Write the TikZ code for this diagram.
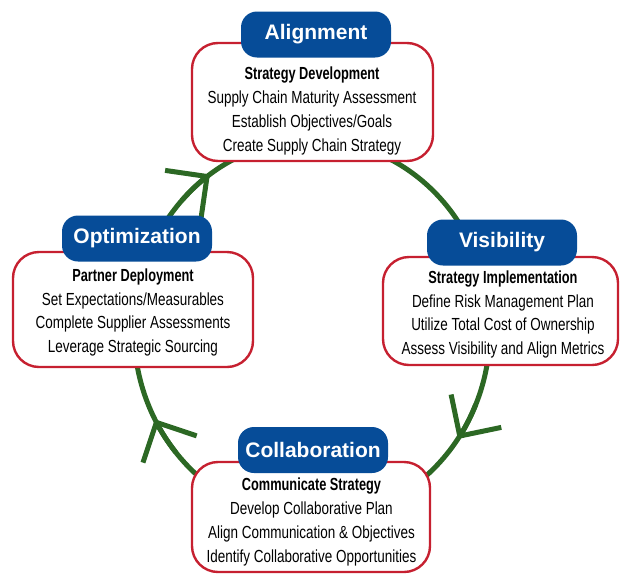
\documentclass[tikz,border=0pt]{standalone}
\usepackage{fontspec}
\setmainfont{Liberation Sans}
\newfontfamily\narrowfont{Liberation Sans}[FakeStretch=0.77]
\newfontfamily\narrowhead{Liberation Sans}[FakeStretch=0.73]
\usetikzlibrary{arrows.meta}
\definecolor{cycleblue}{RGB}{6,76,152}
\definecolor{boxred}{RGB}{198,32,48}
\definecolor{cyclegreen}{RGB}{44,104,36}
\newcommand{\phasehead}[1]{{\narrowhead\bfseries #1}}

\begin{document}
\begin{tikzpicture}[x=1pt,y=1pt,
  phasebox/.style={draw=boxred, line width=2.4pt, fill=white, rounded corners=26pt, inner sep=0pt},
  phasetitle/.style={fill=cycleblue, text=white, rounded corners=16pt, minimum width=150pt,
    minimum height=46pt, inner sep=0pt, font=\fontsize{21}{25}\selectfont\bfseries},
  phasetext/.style={align=center, font=\narrowfont\fontsize{17.5}{23.7}\selectfont, inner sep=0pt},
  loopline/.style={draw=cyclegreen, line width=5pt},
  flowtip/.style={loopline, -{Straight Barb[length=30pt,width=60pt]}}
]
\useasboundingbox (0,0) rectangle (620,-573);

% the improvement cycle, running clockwise
\coordinate (hub) at (312,-330);
\draw[loopline] (hub) ellipse [x radius=178, y radius=190];
\draw[flowtip] (hub) ++(137:178 and 190) arc[start angle=137, end angle=125, x radius=178, y radius=190];
\draw[flowtip] (hub) ++(337:178 and 190) arc[start angle=337, end angle=325, x radius=178, y radius=190];
\draw[flowtip] (hub) ++(220:178 and 190) arc[start angle=220, end angle=208, x radius=178, y radius=190];

% phase boxes
\node[phasebox, minimum width=241pt, minimum height=118pt] (alignBox) at (312.5,-102) {};
\node[phasebox, minimum width=240pt, minimum height=115pt] (optBox) at (133,-309.5) {};
\node[phasebox, minimum width=235pt, minimum height=108pt] (visBox) at (500.5,-311) {};
\node[phasebox, minimum width=238pt, minimum height=110pt] (collBox) at (311,-517) {};

% phase contents
\node[phasetext] (alignText) at (312,-111) {\phasehead{Strategy Development}\\Supply Chain Maturity Assessment\\Establish Objectives/Goals\\Create Supply Chain Strategy};
\node[phasetext] (optText) at (133,-312.5) {\phasehead{Partner Deployment}\\Set Expectations/Measurables\\Complete Supplier Assessments\\Leverage Strategic Sourcing};
\node[phasetext] (visText) at (503,-314.5) {\phasehead{Strategy Implementation}\\Define Risk Management Plan\\Utilize Total Cost of Ownership\\Assess Visibility and Align Metrics};
\node[phasetext] (collText) at (311.5,-522) {\phasehead{Communicate Strategy}\\Develop Collaborative Plan\\Align Communication \& Objectives\\Identify Collaborative Opportunities};

% phase titles
\node[phasetitle] (alignTitle) at (316,-34.5) {Alignment};
\node[phasetitle] (optTitle) at (137,-238.5) {Optimization};
\node[phasetitle] (visTitle) at (502,-242.5) {Visibility};
\node[phasetitle] (collTitle) at (313,-450) {Collaboration};
\end{tikzpicture}
\end{document}
